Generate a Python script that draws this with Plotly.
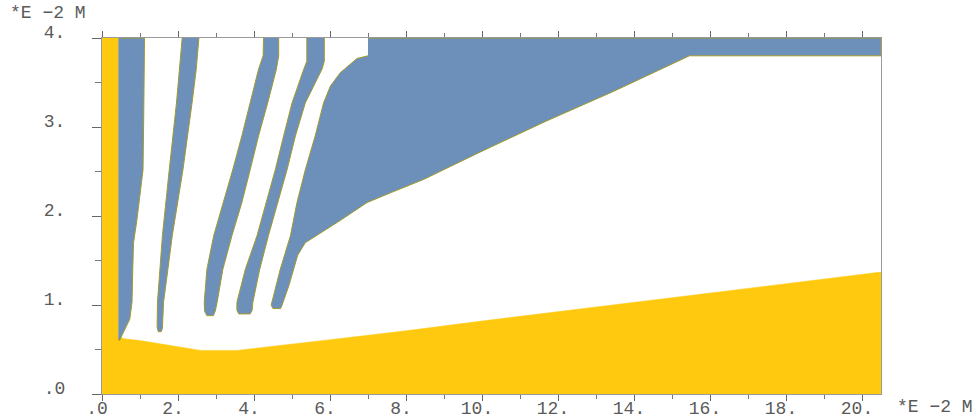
import plotly.graph_objects as go

# ---- data (units: *E -2 M) ----
yellow_x = [0.0, 0.0, 0.43, 0.43, 0.60, 1.0, 2.6, 3.55, 6.0, 8.0, 10.0, 12.0, 14.0, 16.0, 18.0, 20.5, 20.5]
yellow_y = [0.0, 4.0, 4.0, 0.64, 0.62, 0.60, 0.49, 0.49, 0.61, 0.71, 0.82, 0.925, 1.03, 1.13, 1.24, 1.37, 0.0]

stripe1_x = [0.43, 1.12, 1.10, 1.08, 0.92, 0.83, 0.81, 0.79, 0.73, 0.61, 0.46, 0.43]
stripe1_y = [4.0, 4.0, 3.2, 2.52, 1.96, 1.70, 1.40, 1.03, 0.84, 0.73, 0.60, 0.62]

stripe2_x = [2.11, 1.96, 1.77, 1.59, 1.46, 1.45, 1.48, 1.56, 1.59, 1.62, 1.85, 2.13, 2.37, 2.48, 2.55]
stripe2_y = [4.0, 3.27, 2.52, 1.78, 1.03, 0.75, 0.70, 0.70, 0.74, 1.03, 1.78, 2.52, 3.27, 3.65, 4.0]

stripe3_x = [4.25, 4.24, 4.12, 3.90, 3.68, 3.44, 3.20, 2.94, 2.76, 2.69, 2.70, 2.76, 2.93, 2.98,
             3.03, 3.18, 3.42, 3.68, 3.90, 4.12, 4.36, 4.59, 4.65, 4.65]
stripe3_y = [4.0, 3.80, 3.65, 3.27, 2.90, 2.52, 2.15, 1.78, 1.40, 1.03, 0.93, 0.88, 0.88, 0.93,
             1.03, 1.40, 1.78, 2.15, 2.52, 2.90, 3.27, 3.65, 3.80, 4.0]

stripe4_x = [5.39, 5.39, 5.31, 5.00, 4.78, 4.56, 4.32, 4.08, 3.77, 3.55, 3.55, 3.60, 3.90, 3.95,
             3.97, 4.15, 4.38, 4.62, 4.87, 5.09, 5.35, 5.79, 5.85, 5.85]
stripe4_y = [4.0, 3.74, 3.65, 3.27, 2.90, 2.52, 2.15, 1.78, 1.40, 1.03, 0.94, 0.90, 0.90, 0.94,
             1.03, 1.40, 1.78, 2.15, 2.52, 2.90, 3.27, 3.65, 3.74, 4.0]

region5_x = [7.0, 20.5, 20.5, 15.46, 13.46, 11.71, 9.96, 8.46, 7.59, 6.97, 6.27, 5.66, 5.35, 5.15,
             4.92, 4.74, 4.70, 4.50, 4.45, 4.47, 4.69, 4.96, 5.13, 5.35, 5.61, 5.83, 6.01, 6.27,
             6.71, 7.0]
region5_y = [4.0, 4.0, 3.80, 3.80, 3.40, 3.07, 2.72, 2.41, 2.26, 2.15, 1.95, 1.79, 1.70, 1.56,
             1.22, 1.00, 0.96, 0.96, 1.00, 1.03, 1.40, 1.78, 2.15, 2.52, 2.90, 3.27, 3.46, 3.61,
             3.77, 3.80]

x_tickvals = [0, 2, 4, 6, 8, 10, 12, 14, 16, 18, 20]
x_ticktext = [".0", "2.", "4.", "6.", "8.", "10.", "12.", "14.", "16.", "18.", "20."]
y_tickvals = [0, 1, 2, 3, 4]
y_ticktext = [".0", "1.", "2.", "3.", "4."]
unit_label = "*E \u22122 M"

# ---- styles ----
YELLOW = "#FFC90F"
BLUE = "#6D90BB"
EDGE = "#A39A2A"
FONT = "Liberation Mono"
TXT = "#5a5a5a"
FS = 18

fig = go.Figure()
fig.add_trace(go.Scatter(x=yellow_x, y=yellow_y, fill="toself", fillcolor=YELLOW,
                         mode="lines", line=dict(color=YELLOW, width=0.5), hoverinfo="skip"))
for xs, ys in [(stripe1_x, stripe1_y), (stripe2_x, stripe2_y), (stripe3_x, stripe3_y),
               (stripe4_x, stripe4_y), (region5_x, region5_y)]:
    fig.add_trace(go.Scatter(x=xs, y=ys, fill="toself", fillcolor=BLUE, mode="lines",
                             line=dict(color=EDGE, width=1), hoverinfo="skip"))

fig.update_layout(
    width=980, height=420,
    margin=dict(l=102, r=99, t=38, b=26, autoexpand=False),
    plot_bgcolor="white", paper_bgcolor="white",
    showlegend=False,
    font=dict(family=FONT, size=FS, color=TXT),
)
fig.update_xaxes(
    range=[0, 20.5], tickmode="array", tickvals=x_tickvals, ticktext=x_ticktext,
    ticks="outside", ticklen=6, tickcolor="#666", tickwidth=1,
    minor=dict(dtick=1, tick0=0, ticks="outside", ticklen=4, tickcolor="#777"),
    showline=True, linecolor="#999", linewidth=1, mirror="ticks",
    showgrid=False, zeroline=False, layer="below traces", automargin=False,
    ticklabelshift=-5, ticklabelstandoff=-9,
    tickfont=dict(family=FONT, size=FS, color=TXT),
)
fig.update_yaxes(
    range=[0, 4], tickmode="array", tickvals=y_tickvals, ticktext=y_ticktext,
    ticks="outside", ticklen=9, tickcolor="#666", tickwidth=1,
    minor=dict(dtick=0.5, tick0=0, ticks="outside", ticklen=6, tickcolor="#777"),
    showline=True, linecolor="#999", linewidth=1, mirror=True,
    showgrid=False, zeroline=False, layer="below traces", automargin=False,
    ticklabelshift=-6, ticklabelstandoff=23,
    tickfont=dict(family=FONT, size=FS, color=TXT),
)
fig.add_annotation(text=unit_label, xref="paper", yref="paper", x=-0.069, y=1.070,
                   xanchor="center", yanchor="middle",
                   showarrow=False, font=dict(family=FONT, size=FS, color=TXT))
fig.add_annotation(text=unit_label, xref="paper", yref="paper", x=1.069, y=-0.0365,
                   xanchor="center", yanchor="middle",
                   showarrow=False, font=dict(family=FONT, size=FS, color=TXT))

fig.write_html("out.html", config={"displayModeBar": False},
               post_script="document.body.style.margin='0';")
